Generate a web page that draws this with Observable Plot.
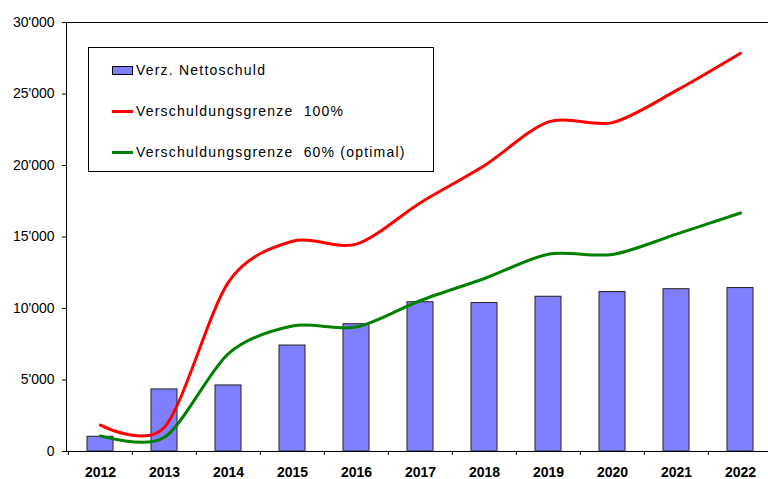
<!DOCTYPE html>
<html>
<head>
<meta charset="utf-8">
<script src="https://cdn.jsdelivr.net/npm/d3@7"></script>
<script src="https://cdn.jsdelivr.net/npm/@observablehq/plot@0.6"></script>
<style>
  html, body { margin: 0; padding: 0; background: #fff; overflow: hidden; }
  #wrap { position: relative; width: 768px; height: 479px; overflow: hidden; }
  #chart svg { max-width: none !important; }
  #legend {
    position: absolute; left: 88px; top: 47px; width: 344px; height: 123px;
    border: 1px solid #000; background: #fff;
    font-family: "Liberation Sans", Arial, sans-serif; font-size: 14px; color: #000;
  }
  .item { position: absolute; left: 23px; height: 16px; display: flex; align-items: center; white-space: pre; letter-spacing: 1.2px; }
  .sw { display: inline-block; width: 21px; margin-right: 3px; box-sizing: border-box; }
  .sw.bar { height: 9px; background: #8080FF; border: 1px solid #000; }
  .sw.line { height: 3px; }
</style>
</head>
<body>
<div id="wrap">
  <div id="chart"></div>
  <div id="legend"></div>
</div>
<script>
const years = ["2012","2013","2014","2015","2016","2017","2018","2019","2020","2021","2022"];
const nettoschuld = [1030, 4340, 4620, 7410, 8900, 10440, 10380, 10820, 11150, 11350, 11430];
const grenze100 = [1850, 1700, 11850, 14700, 14500, 17400, 20000, 23050, 23000, 25250, 27850];
const grenze60 = [1090, 1000, 6850, 8780, 8700, 10560, 12100, 13800, 13780, 15200, 16680];
const yTicks = [0, 5000, 10000, 15000, 20000, 25000, 30000];

const seriesNames = ["Verz. Nettoschuld", "Verschuldungsgrenze  100%", "Verschuldungsgrenze  60% (optimal)"];
const seriesColors = ["#8080FF", "#FF0000", "#008000"];

const rows = years.map((y, i) => ({year: y, bar: nettoschuld[i], r: grenze100[i], g: grenze60[i]}));
const fmt = d => d3.format(",")(d).replace(/,/g, "'");

const W = 774, mL = 66, mR = 1;
const step = (W - mL - mR) / years.length;
const smooth = d3.curveCardinal.tension(0.12);

const chart = Plot.plot({
  width: W, height: 479,
  marginLeft: mL, marginRight: mR, marginTop: 22, marginBottom: 28,
  style: {fontFamily: "'Liberation Sans', Arial, sans-serif", fontSize: "14px", color: "#000", background: "#fff", overflow: "visible", maxWidth: "none"},
  x: {domain: years, paddingInner: 0.595, paddingOuter: 0.2975, axis: null},
  y: {domain: [0, 30000], axis: null},
  marks: [
    Plot.barY(rows, {x: "year", y: "bar", fill: seriesColors[0], stroke: "#222", strokeWidth: 1}),
    Plot.lineY(rows, {x: "year", y: "r", stroke: seriesColors[1], strokeWidth: 3, curve: smooth}),
    Plot.lineY(rows, {x: "year", y: "g", stroke: seriesColors[2], strokeWidth: 3, curve: smooth}),
    Plot.frame({stroke: "#000", strokeWidth: 1}),
    Plot.axisY({ticks: yTicks, tickSize: 4, tickPadding: 8, tickFormat: fmt, fontSize: 14, stroke: "#000", label: null}),
    Plot.axisX({tickSize: 0, tickPadding: 16, fontWeight: "bold", fontSize: 14, label: null}),
    Plot.axisX({tickSize: 4, dx: -step / 2, tickFormat: () => "", stroke: "#000", label: null})
  ]
});
document.getElementById("chart").appendChild(chart);

const legend = document.getElementById("legend");
const tops = [14, 55, 96];
seriesNames.forEach((name, i) => {
  const it = document.createElement("div");
  it.className = "item";
  it.style.top = tops[i] + "px";
  const sw = document.createElement("span");
  sw.className = "sw " + (i === 0 ? "bar" : "line");
  if (i > 0) sw.style.background = seriesColors[i];
  const tx = document.createElement("span");
  tx.textContent = name;
  it.appendChild(sw); it.appendChild(tx);
  legend.appendChild(it);
});
</script>
</body>
</html>
